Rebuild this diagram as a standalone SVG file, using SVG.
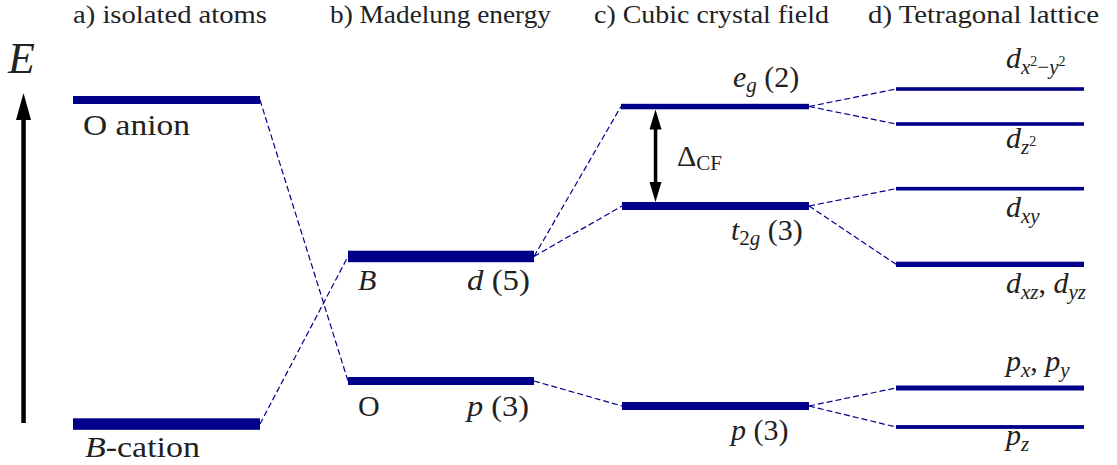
<svg xmlns="http://www.w3.org/2000/svg" width="1117" height="465" viewBox="0 0 1117 465">
<rect width="1117" height="465" fill="#fff"/>
<g id="titles">
<text font-family="Liberation Serif" font-size="26" fill="#222" x="73" y="23" textLength="194" lengthAdjust="spacingAndGlyphs">a) isolated atoms</text>
<text font-family="Liberation Serif" font-size="26" fill="#222" x="330" y="23" textLength="221" lengthAdjust="spacingAndGlyphs">b) Madelung energy</text>
<text font-family="Liberation Serif" font-size="26" fill="#222" x="594" y="23" textLength="235" lengthAdjust="spacingAndGlyphs">c) Cubic crystal field</text>
<text font-family="Liberation Serif" font-size="26" fill="#222" x="868" y="23" textLength="231" lengthAdjust="spacingAndGlyphs">d) Tetragonal lattice</text>
</g>
<g id="energy-axis">
<text font-family="Liberation Serif" font-style="italic" font-size="44" fill="#222" x="8" y="73">E</text>
<rect x="21.3" y="118" width="4.5" height="305" fill="#000"/>
<polygon points="23.5,93 31,120 16,120" fill="#000"/>
</g>
<g id="connectors" stroke="#00008b" stroke-width="1.2" stroke-dasharray="6 3" fill="none">
<line x1="260" y1="100" x2="348" y2="381"/>
<line x1="260" y1="424" x2="348" y2="256.5"/>
<line x1="534" y1="256.5" x2="621" y2="106.5"/>
<line x1="534" y1="256.5" x2="622" y2="206"/>
<line x1="534" y1="381" x2="622" y2="406"/>
<line x1="809" y1="106.5" x2="896" y2="89"/>
<line x1="809" y1="106.5" x2="896" y2="124"/>
<line x1="809" y1="206" x2="896" y2="188.7"/>
<line x1="809" y1="206" x2="896" y2="264.3"/>
<line x1="809" y1="406" x2="896" y2="388"/>
<line x1="809" y1="406" x2="896" y2="427"/>
</g>
<g id="o-anion">
<rect fill="#00008b" x="73" y="96" width="187" height="8"/>
<text font-family="Liberation Serif" font-size="30" fill="#222" x="83" y="135" textLength="107" lengthAdjust="spacingAndGlyphs">O anion</text>
</g>
<g id="b-cation">
<rect fill="#00008b" x="73" y="418.3" width="187" height="11.5"/>
<text font-family="Liberation Serif" font-size="30" fill="#222" x="85" y="457" textLength="115" lengthAdjust="spacingAndGlyphs"><tspan font-style="italic">B</tspan>-cation</text>
</g>
<g id="madelung-d">
<rect fill="#00008b" x="348" y="250.7" width="186" height="11.5"/>
<text font-family="Liberation Serif" font-size="30" font-style="italic" fill="#222" x="358" y="290">B</text>
<text font-family="Liberation Serif" font-size="30" fill="#222" x="467" y="290" textLength="63" lengthAdjust="spacingAndGlyphs"><tspan font-style="italic">d</tspan> (5)</text>
</g>
<g id="madelung-p">
<rect fill="#00008b" x="348" y="377" width="186" height="8"/>
<text font-family="Liberation Serif" font-size="30" fill="#222" x="358" y="416">O</text>
<text font-family="Liberation Serif" font-size="30" fill="#222" x="467" y="416" textLength="62" lengthAdjust="spacingAndGlyphs"><tspan font-style="italic">p</tspan> (3)</text>
</g>
<g id="cubic-eg">
<rect fill="#00008b" x="621" y="103.8" width="188" height="5.5"/>
<text font-family="Liberation Serif" font-size="30" fill="#222" x="733" y="87"><tspan font-style="italic">e</tspan><tspan font-style="italic" font-size="21" dy="5">g</tspan><tspan dy="-5">  (2)</tspan></text>
</g>
<g id="cubic-t2g">
<rect fill="#00008b" x="622" y="202" width="187" height="8"/>
<text font-family="Liberation Serif" font-size="30" fill="#222" x="731" y="240"><tspan font-style="italic">t</tspan><tspan font-size="21" dy="5">2</tspan><tspan font-style="italic" font-size="21">g</tspan><tspan dy="-5">  (3)</tspan></text>
</g>
<g id="cubic-p">
<rect fill="#00008b" x="622" y="402" width="187" height="8"/>
<text font-family="Liberation Serif" font-size="30" fill="#222" x="731" y="440"><tspan font-style="italic">p</tspan>  (3)</text>
</g>
<g id="delta-cf">
<rect x="653.8" y="128" width="3.5" height="56" fill="#000"/>
<polygon points="655.5,109.5 661.5,129.5 649.5,129.5" fill="#000"/>
<polygon points="655.5,202 661.5,182 649.5,182" fill="#000"/>
<text font-family="Liberation Serif" font-size="30" fill="#222" x="677" y="166">&#916;<tspan font-size="21" dy="4">CF</tspan></text>
</g>
<g id="tet-dx2y2">
<rect fill="#00008b" x="896" y="87.2" width="188" height="3.6"/>
<text font-family="Liberation Serif" font-size="30" fill="#222" x="1006" y="68"><tspan font-style="italic">d</tspan><tspan font-style="italic" font-size="21" dy="6">x</tspan><tspan font-size="14" dy="-8">2</tspan><tspan font-size="21" dy="8">&#8722;</tspan><tspan font-style="italic" font-size="21">y</tspan><tspan font-size="14" dy="-8">2</tspan></text>
</g>
<g id="tet-dz2">
<rect fill="#00008b" x="896" y="122.2" width="188" height="3.6"/>
<text font-family="Liberation Serif" font-size="30" fill="#222" x="1006" y="148"><tspan font-style="italic">d</tspan><tspan font-style="italic" font-size="21" dy="6">z</tspan><tspan font-size="14" dy="-8">2</tspan></text>
</g>
<g id="tet-dxy">
<rect fill="#00008b" x="896" y="186.9" width="188" height="3.6"/>
<text font-family="Liberation Serif" font-size="30" fill="#222" x="1006" y="217"><tspan font-style="italic">d</tspan><tspan font-style="italic" font-size="21" dy="6">xy</tspan></text>
</g>
<g id="tet-dxz-dyz">
<rect fill="#00008b" x="896" y="261.7" width="188" height="5.3"/>
<text font-family="Liberation Serif" font-size="30" fill="#222" x="1006" y="293"><tspan font-style="italic">d</tspan><tspan font-style="italic" font-size="21" dy="6">xz</tspan><tspan dy="-6">,  </tspan><tspan font-style="italic">d</tspan><tspan font-style="italic" font-size="21" dy="6">yz</tspan></text>
</g>
<g id="tet-pxpy">
<rect fill="#00008b" x="896" y="385.5" width="188" height="5"/>
<text font-family="Liberation Serif" font-size="30" fill="#222" x="1006" y="371"><tspan font-style="italic">p</tspan><tspan font-style="italic" font-size="21" dy="6">x</tspan><tspan dy="-6">,  </tspan><tspan font-style="italic">p</tspan><tspan font-style="italic" font-size="21" dy="6">y</tspan></text>
</g>
<g id="tet-pz">
<rect fill="#00008b" x="896" y="425.1" width="188" height="3.8"/>
<text font-family="Liberation Serif" font-size="30" fill="#222" x="1006" y="445"><tspan font-style="italic">p</tspan><tspan font-style="italic" font-size="21" dy="6">z</tspan></text>
</g>
</svg>
